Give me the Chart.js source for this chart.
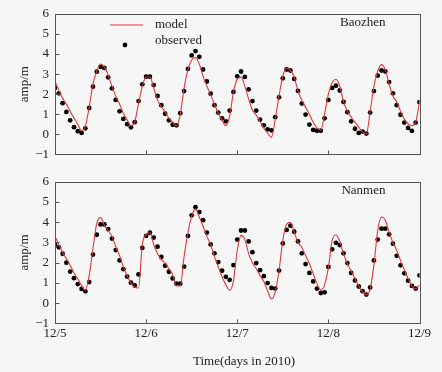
<!DOCTYPE html>
<html>
<head>
<meta charset="utf-8">
<script src="https://cdn.jsdelivr.net/npm/chart.js@4/dist/chart.umd.min.js"></script>
<style>
  html, body { margin: 0; padding: 0; background: #f6f6f6; }
  #wrap { position: relative; width: 442px; height: 372px; }
  #c1 { position: absolute; left: 0; top: 0; }
  #c2 { position: absolute; left: 0; top: 168px; }
</style>
</head>
<body>
<div id="wrap">
  <canvas id="c1" width="442" height="168"></canvas>
  <canvas id="c2" width="442" height="204"></canvas>
</div>
<script>
// hours since 12/5 00:00
const hours = [
  0, 1, 2, 3, 4, 5, 6, 7, 8, 9, 10, 11, 12, 13, 14, 15, 16, 17, 18, 19,
  20, 21, 22, 23, 24, 25, 26, 27, 28, 29, 30, 31, 32, 33, 34, 35, 36, 37, 38, 39,
  40, 41, 42, 43, 44, 45, 46, 47, 48, 49, 50, 51, 52, 53, 54, 55, 56, 57, 58, 59,
  60, 61, 62, 63, 64, 65, 66, 67, 68, 69, 70, 71, 72, 73, 74, 75, 76, 77, 78, 79,
  80, 81, 82, 83, 84, 85, 86, 87, 88, 89, 90, 91, 92, 93, 94, 95, 96
];
const dayTicks = [0, 24, 48, 72, 96];
const dayLabels = ['12/5', '12/6', '12/7', '12/8', '12/9'];

const baozhenObserved = [
  2.31, 2.04, 1.55, 1.11, 0.69, 0.35, 0.15, 0.06, 0.29, 1.31,
  2.37, 3.12, 3.36, 3.31, 2.84, 2.29, 1.71, 1.14, 0.76, 0.50,
  0.34, 0.60, 1.65, 2.49, 2.87, 2.87, 2.45, 1.91, 1.45, 1.02,
  0.69, 0.47, 0.44, 1.05, 2.15, 3.26, 3.93, 4.15, 3.86, 3.23,
  2.63, 2.02, 1.45, 1.08, 0.79, 0.64, 1.18, 2.11, 2.89, 3.13,
  2.86, 2.24, 1.65, 1.18, 0.73, 0.44, 0.24, 0.19, 0.85, 1.84,
  2.79, 3.23, 3.18, 2.76, 2.16, 1.53, 0.98, 0.48, 0.21, 0.17,
  0.17, 0.79, 1.71, 2.31, 2.42, 2.18, 1.61, 1.10, 0.64, 0.27,
  0.06, 0.13, 0.03, 1.08, 2.15, 2.92, 3.18, 3.13, 2.60, 2.04,
  1.45, 0.97, 0.58, 0.31, 0.16, 0.58, 1.60
];
const baozhenModel = [
  2.62, 2.2, 1.8, 1.5, 1.15, 0.8, 0.5, 0.16, 0.4, 1.35,
  2.5, 3.15, 3.5, 3.35, 2.95, 2.4, 1.9, 1.5, 1.05, 0.72,
  0.42, 0.62, 1.53, 2.4, 2.85, 2.87, 2.3, 1.7, 1.37, 1.1,
  0.8, 0.6, 0.4, 1.0, 2.3, 3.2, 3.7, 3.82, 3.5, 2.9,
  2.4, 1.95, 1.5, 1.05, 0.7, 0.42, 0.9, 2.1, 2.75, 2.85,
  2.4, 1.75, 1.21, 0.95, 0.65, 0.3, 0.05, -0.16, 0.73, 1.9,
  2.9, 3.28, 3.2, 2.85, 2.15, 1.7, 1.35, 1.0, 0.6, 0.32,
  0.21, 1.0, 2.0, 2.58, 2.74, 2.42, 1.61, 1.15, 0.85, 0.6,
  0.35, 0.1, 0.02, 1.13, 2.4, 3.15, 3.47, 3.2, 2.5, 1.9,
  1.61, 1.15, 0.75, 0.52, 0.42, 0.6, 1.61
];

const nanmenObserved = [
  2.89, 2.76, 2.44, 2.0, 1.56, 1.23, 0.94, 0.70, 0.58, 1.04,
  2.4, 3.38, 3.89, 3.89, 3.66, 3.19, 2.62, 2.11, 1.68, 1.31,
  1.01, 0.87, 1.42, 2.73, 3.32, 3.48, 3.24, 2.79, 2.28, 1.85,
  1.55, 1.22, 0.96, 0.96, 1.80, 3.32, 4.34, 4.74, 4.5, 4.1,
  3.49, 2.9, 2.46, 2.03, 1.6, 1.30, 1.15, 1.88, 3.14, 3.59,
  3.59, 3.05, 2.52, 1.98, 1.63, 1.33, 0.99, 0.75, 0.72, 1.61,
  2.95, 3.62, 3.83, 3.53, 3.05, 2.46, 1.93, 1.49, 1.07, 0.72,
  0.50, 0.53, 1.79, 2.66, 2.98, 2.87, 2.46, 1.98, 1.49, 1.12,
  0.82, 0.59, 0.42, 0.77, 2.11, 3.14, 3.68, 3.68, 3.40, 2.94,
  2.34, 1.87, 1.47, 1.11, 0.85, 0.72, 1.37
];
const nanmenModel = [
  3.3, 2.9, 2.5, 2.2, 1.87, 1.5, 1.2, 0.85, 0.65, 1.35,
  2.7, 3.94, 4.23, 3.85, 3.6, 3.3, 2.8, 2.35, 1.79, 1.35,
  1.0, 0.78, 0.75, 2.9, 3.4, 3.48, 2.9, 2.45, 2.15, 1.98,
  1.7, 1.39, 0.85, 0.85, 2.3, 3.46, 4.3, 4.65, 4.26, 3.8,
  3.3, 2.9, 2.3, 1.8, 1.3, 0.9, 0.63, 1.1, 2.6, 3.35,
  3.15, 2.45, 2.0, 1.7, 1.35, 1.07, 0.6, 0.2, 0.55, 1.6,
  3.1, 3.9, 4.0, 3.5, 3.0, 2.75, 2.35, 1.95, 1.45, 0.95,
  0.65, 0.9, 1.75, 3.1, 3.38, 3.05, 2.42, 1.95, 1.6, 1.2,
  0.85, 0.55, 0.4, 0.7, 1.9, 3.6, 4.26, 4.1, 3.5, 3.0,
  2.6, 2.11, 1.65, 1.2, 0.85, 0.7, 0.9
];

const FONT = 'Liberation Serif, Times New Roman, serif';
const TEXT = '#222';
const RED = '#e0373a';
const X_TITLE = 'Time(days in 2010)';

// frame, inward ticks, station name, legend and x title drawn on top of the plot
const decor = {
  id: 'decor',
  afterDraw(chart, args, opts) {
    const { ctx, chartArea: a, scales: { x, y } } = chart;
    const L = Math.round(a.left) + 0.5, R = Math.round(a.right) + 0.5;
    const T = Math.round(a.top) + 0.5, B = Math.round(a.bottom) + 0.5;
    ctx.save();
    ctx.strokeStyle = '#555';
    ctx.lineWidth = 1;
    ctx.strokeRect(L, T, R - L, B - T);
    ctx.beginPath();
    x.ticks.forEach(t => {
      const px = Math.round(x.getPixelForValue(t.value)) + 0.5;
      if (px > L + 2 && px < R - 2) { ctx.moveTo(px, B); ctx.lineTo(px, B - 4); }
    });
    y.ticks.forEach(t => {
      const py = Math.round(y.getPixelForValue(t.value)) + 0.5;
      ctx.moveTo(L, py); ctx.lineTo(L + 4, py);
    });
    ctx.stroke();

    ctx.font = '13px ' + FONT;
    ctx.fillStyle = TEXT;
    ctx.textBaseline = 'middle';
    ctx.textAlign = 'right';
    ctx.fillText(opts.station, a.right - 34, a.top + 9);

    if (opts.legend) {
      const ds = chart.data.datasets;
      ctx.strokeStyle = RED;
      ctx.lineWidth = 1.2;
      ctx.beginPath();
      ctx.moveTo(a.left + 55, a.top + 11);
      ctx.lineTo(a.left + 88, a.top + 11);
      ctx.stroke();
      ctx.fillStyle = '#000';
      ctx.beginPath();
      ctx.arc(a.left + 70, a.top + 31, 2.4, 0, Math.PI * 2);
      ctx.fill();
      ctx.fillStyle = TEXT;
      ctx.textAlign = 'left';
      ctx.fillText(ds[0].label, a.left + 100, a.top + 11);
      ctx.fillText(ds[1].label, a.left + 100, a.top + 27);
    }
    if (opts.xTitle) {
      ctx.fillStyle = TEXT;
      ctx.textAlign = 'center';
      ctx.fillText(opts.xTitle, a.left + 189, a.bottom + 38);
    }
    ctx.restore();
  }
};

function makeChart(id, model, observed, station, bottom) {
  const pts = arr => hours.map((h, i) => ({ x: h, y: arr[i] }));
  return new Chart(document.getElementById(id), {
    type: 'line',
    data: {
      datasets: [
        {
          label: 'model',
          data: pts(model),
          borderColor: RED,
          borderWidth: 1.1,
          pointRadius: 0,
          cubicInterpolationMode: 'monotone',
          fill: false
        },
        {
          label: 'observed',
          data: pts(observed),
          showLine: false,
          pointRadius: 2.4,
          pointBorderWidth: 0,
          pointBackgroundColor: '#000',
          borderColor: '#000'
        }
      ]
    },
    options: {
      responsive: false,
      animation: false,
      layout: {
        padding: bottom
          ? { left: 0, right: 22.5, top: 8.7, bottom: 0 }
          : { left: 0, right: 22.5, top: 14, bottom: 9.5 }
      },
      plugins: {
        legend: { display: false },
        tooltip: { enabled: false },
        decor: { station: station, legend: !bottom, xTitle: bottom ? X_TITLE : '' }
      },
      scales: {
        x: {
          type: 'linear',
          min: 0,
          max: 96,
          afterBuildTicks: s => { s.ticks = dayTicks.map(v => ({ value: v })); },
          afterFit: s => { s.height = bottom ? 48.7 : 0; },
          grid: { display: false, drawTicks: false },
          border: { display: false },
          ticks: {
            display: bottom,
            padding: 2,
            maxRotation: 0,
            color: TEXT,
            font: { family: FONT, size: 13 },
            callback: v => dayLabels[dayTicks.indexOf(v)]
          }
        },
        y: {
          min: -1,
          max: 6,
          afterFit: s => { s.width = 55; },
          grid: { display: false, drawTicks: false },
          border: { display: false },
          ticks: {
            stepSize: 1,
            padding: 6,
            color: TEXT,
            font: { family: FONT, size: 13 },
            callback: v => (v < 0 ? '\u2212' + Math.abs(v) : String(v))
          },
          title: {
            display: true,
            text: 'amp/m',
            color: TEXT,
            font: { family: FONT, size: 13 },
            padding: { top: 17, bottom: 0 }
          }
        }
      }
    },
    plugins: [decor]
  });
}

makeChart('c1', baozhenModel, baozhenObserved, 'Baozhen', false);
makeChart('c2', nanmenModel, nanmenObserved, 'Nanmen', true);
</script>
</body>
</html>
